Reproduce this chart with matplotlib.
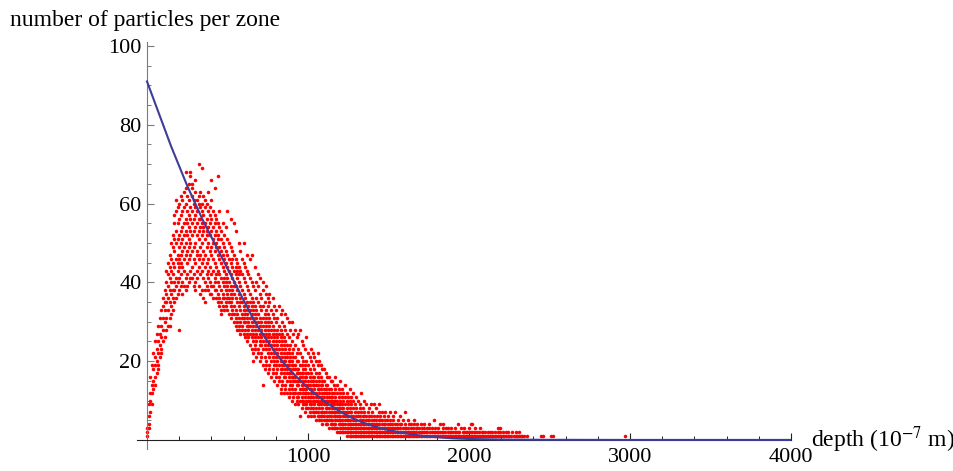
import numpy as np
import matplotlib
matplotlib.use('Agg')
import matplotlib.pyplot as plt
from matplotlib.ticker import FixedLocator, MultipleLocator

# ----- fitted curve -----
fit_depth = [0, 50, 100, 150, 200, 250, 300, 350, 400, 450, 500, 550, 600, 650,
             700, 750, 800, 850, 900, 950, 1000, 1050, 1100, 1150, 1200, 1250,
             1300, 1350, 1400, 1450, 1500, 1550, 1600, 1700, 1800, 1900, 2000,
             2200, 2500, 3000, 4000]
fit_count = [91, 85.5, 80, 74.5, 69.5, 64.5, 60, 55.5, 51.5, 47.5, 43.5, 39.5,
             35.5, 31.5, 28, 25, 22, 19.5, 17.2, 15.2, 13.2, 11.5, 9.9, 8.5, 7.2,
             6.1, 5.1, 4.3, 3.6, 3.0, 2.5, 2.1, 1.7, 1.1, 0.7, 0.4, 0.25, 0.1,
             0.03, 0, 0]

# ----- particles per zone, "depth: counts" -----
arm_cols = """
0: 2 1 3
10: 3 6 9 4
20: 7 12 16 10
30: 9 14 19 12
40: 13 18 22 15
50: 16 21 25 14 19
60: 17 23 27 20
70: 19 25 29 22 18
80: 21 27 31 24
90: 23 29 33 26 22
100: 25 31 36 28 34
110: 26 33 38 30 35
120: 28 35 40 31 37 43
130: 29 36 42 33 39 45
140: 31 38 44 35 41 47 29
150: 32 40 46 37 43 50 34
160: 33 42 49 38 45 52 36
170: 35 44 51 40 48 55 38 57
180: 36 46 53 41 50 58 39 61
190: 37 47 55 43 51 59 45 40
200: 38 49 56 44 52 60 46 41 28
"""

hump_cols = """
210: 39 50 57 45 53 62 47 42
220: 40 51 58 44 54 61 48 37
230: 39 52 59 46 55 63 49 43
240: 41 53 60 47 56 64 50 38 68
250: 42 52 58 48 55 62 45 39
260: 40 54 61 49 57 65 46 51
270: 43 53 59 47 56 67 50 41 68
280: 41 55 62 48 58 64 52 44 65
290: 42 56 60 49 53 61 46 39
300: 40 54 63 50 57 59 45 38 66
310: 43 55 61 48 52 58 47 41
320: 39 53 62 51 56 60 46 44 70
330: 42 56 59 49 54 63 47 37
340: 38 52 60 50 55 58 45 43 69
350: 41 54 57 48 53 62 46 36
360: 40 51 59 47 55 61 44 38 35
370: 39 53 56 49 52 60 45 42
380: 38 50 58 46 54 63 43 41
390: 40 52 55 48 57 59 44 37
400: 37 49 56 47 53 61 42 39 66
410: 39 51 54 46 50 58 43 36
420: 38 48 55 45 52 57 41 40 64
430: 36 50 53 44 49 56 42 38
440: 37 47 52 43 51 55 40 35 67
450: 36 46 54 42 49 58 39 34
460: 35 45 51 41 48 53 38 33 32
470: 34 44 50 40 47 55 37 36
480: 33 43 49 39 46 52 36 41
490: 34 42 48 38 45 54 35 40
"""

fall_cols = """
500: 33 41 47 37 44 51 36 39 58
510: 32 40 46 36 43 50 35 38
520: 31 39 45 35 42 49 34 37 56
530: 32 38 44 36 41 48 33 46
540: 30 37 43 34 40 47 32 39 55
550: 29 36 42 33 39 46 31 44 53
560: 30 35 41 32 38 45 28 43
570: 28 34 40 31 37 44 29 42 50
580: 27 33 39 30 36 43 35 48
590: 28 32 38 29 35 42 31 46
600: 27 31 37 30 34 41 33 45 50
610: 26 30 36 28 33 40 32 44
620: 25 29 35 27 32 39 31 43 47
630: 26 28 34 30 33 38 29 42
640: 24 27 33 29 31 37 35 41 46
650: 23 26 32 28 30 36 34 40 47
660: 22 25 31 27 29 35 33 39 20
670: 23 24 30 26 28 34 32 38 44
680: 21 25 29 27 31 33 36 40
690: 22 23 28 26 30 32 35 39 42
700: 20 24 27 25 29 31 34 37 41
710: 21 22 26 24 28 30 33 36
720: 19 23 25 27 29 31 34 38 40 14
730: 18 21 24 26 28 30 32 35
740: 19 20 23 25 27 29 31 33 37 39
750: 17 22 24 26 28 30 32 34 36
760: 18 19 21 23 25 27 29 31 35 37
770: 16 20 22 24 26 28 30 33
780: 17 18 21 23 25 27 29 32 36
790: 15 19 20 22 24 26 28 31 34
800: 16 17 19 21 23 25 27 30 33
810: 14 18 20 22 24 26 28 31
820: 15 16 19 21 23 25 27 29 34
830: 13 17 18 20 22 24 26 28 32 12
840: 14 15 18 19 21 23 25 27 30 33
850: 12 16 17 19 20 22 24 26 29
860: 13 14 16 18 20 21 23 25 28 32
870: 12 15 17 18 19 21 22 24 27 31
880: 11 13 16 17 19 20 22 23 26 30
890: 12 14 15 17 18 20 21 24 28
900: 10 13 14 16 17 19 20 22 25 30
910: 11 12 15 16 18 19 21 23 27
920: 9 12 13 15 16 18 19 21 24 28
930: 10 11 14 15 17 18 20 22 26
940: 9 11 12 14 15 17 18 20 23 27
950: 6 10 12 13 15 16 17 19 22 28
960: 8 10 11 13 14 16 17 19 21 25
970: 9 10 12 13 14 15 17 18 20 24
980: 7 9 11 12 13 15 16 18 19 23
990: 8 9 10 12 13 14 16 17 20 26
1000: 6 8 10 11 12 14 15 17 19 22
1010: 7 9 10 11 13 14 16 18 21
1020: 6 8 9 11 12 13 15 17 20 23
1030: 7 8 10 11 12 14 15 16 19 22
1040: 6 7 9 10 12 13 14 16 18 21
1050: 5 7 8 10 11 12 14 15 17 20
1060: 6 7 9 10 11 13 14 16 19 22
1070: 5 6 8 9 11 12 13 15 17 20
1080: 5 6 7 9 10 11 13 14 16 19
1090: 4 6 7 8 10 11 12 14 15 18
1100: 5 6 7 9 10 11 12 13 15 18
1110: 4 5 7 8 9 10 12 13 14 17
1120: 4 5 6 8 9 10 11 12 14 16
1130: 3 5 6 7 8 10 11 12 13 16
1140: 4 5 6 7 9 10 11 13 15
1150: 3 4 5 7 8 9 10 11 12 15
1160: 3 4 6 7 8 9 10 12 14
1170: 3 4 5 6 7 8 10 11 13 16
1180: 2 3 5 6 7 8 9 10 12 14
1190: 2 4 5 6 7 8 9 11 13
1200: 2 3 4 5 6 8 9 10 12 15
1210: 2 3 4 5 7 8 9 11 13
1220: 2 3 4 6 7 8 10 12
1230: 2 3 4 5 6 7 9 11 14
1240: 1 2 3 5 6 7 8 10 12
1250: 2 3 4 5 6 7 9 11
1260: 1 2 3 4 5 7 8 10 13
1270: 1 2 3 4 6 7 9 11
1280: 1 2 3 4 5 6 8 10 12
1290: 1 2 3 4 5 7 9
"""

tail_cols = """
1300: 1 2 3 4 5 6 8 11
1310: 1 2 3 4 6 7 10
1320: 1 2 3 4 5 6 8 9
1330: 1 2 3 4 5 7 12
1340: 1 2 3 4 5 6 8
1350: 1 2 3 4 6 7 10
1360: 1 2 3 4 5 6 9
1370: 1 2 3 4 5 7
1380: 1 2 3 4 5 6 8
1390: 1 2 3 4 6 9
1400: 1 2 3 4 5 7
1410: 1 2 3 4 5 6 9
1420: 1 2 3 4 5 8
1430: 1 2 3 4 6
1440: 1 2 3 4 5 7 9
1450: 1 2 3 5 6
1460: 1 2 3 4 5 7
1470: 1 2 3 4 6
1480: 1 2 3 4 5 7
1490: 1 2 3 5
1500: 1 2 3 4 6
1510: 1 2 3 4 5 7
1520: 1 2 3 4
1530: 1 2 3 5 6
1540: 1 2 3 4 7
1550: 1 2 3 4
1560: 1 2 3 5
1570: 1 2 3 4 6
1580: 1 2 4
1590: 1 2 3 5
1600: 1 2 3 4 7
1610: 1 2 3
1620: 1 2 3 5
1630: 1 2 4
1640: 1 2 3 4
1650: 1 2 3
1660: 1 2 4 5
1670: 1 2 3
1680: 1 3 4
1690: 1 2 3
1700: 1 2 4
1710: 1 2 3
1720: 1 2 3 4
1730: 1 2
1740: 1 2 3
1750: 1 3 4
1760: 1 2
1770: 1 2 3
1780: 1 2 5
1790: 1 2 3
1800: 1 2
1810: 1 2 3
1820: 1 2 4
1830: 1 2
1840: 1 2 3 4
1850: 1 2
1860: 1 3
1870: 1 2 3
1880: 1 2
1890: 1 2 3
1900: 1 2
1910: 1 2 3
1920: 1 2
1930: 1 2 4
1940: 1 2
1950: 1 3
1960: 1 2
1970: 1 2 3
1980: 1 2
1990: 1 2
2000: 1 2 3
2010: 1 2 4
2020: 1 2 4
2030: 1 2
2040: 1 2 3
2050: 1 2
2060: 1 2
2070: 1 3
2080: 1 2
2090: 1 2
2100: 1 2
2110: 1
2120: 1 2
2130: 1 2
2140: 1 2
2150: 1
2160: 1 2
2170: 1
2180: 1 2 3
2190: 1 2 3
2200: 1
2210: 1 2
2220: 1
2230: 1 2
2240: 1 2
2250: 1
2260: 1
2270: 2
2280: 1
2290: 1 2
2300: 1
2310: 1 2
2320: 1
2330: 1
2340: 1
2360: 1
2450: 1
2460: 1
2510: 1
2520: 1
2970: 1
"""


def parse_cols(block):
    xs, ys = [], []
    for line in block.strip().splitlines():
        d, vals = line.split(':')
        for v in vals.split():
            xs.append(float(d))
            ys.append(float(v))
    return xs, ys


def main():
    plt.rcParams['font.family'] = ['Liberation Serif', 'DejaVu Serif']
    plt.rcParams['mathtext.fontset'] = 'stix'

    depth, count = [], []
    for block in (arm_cols, hump_cols, fall_cols, tail_cols):
        xs, ys = parse_cols(block)
        depth += xs
        count += ys

    fig = plt.figure(figsize=(9.54, 4.71), dpi=100)
    ax = fig.add_axes([137 / 954, 22 / 471, 654 / 954, 407 / 471])

    ax.scatter(depth, count, s=6.5, c='#ff0000', linewidths=0, zorder=2)
    ax.plot(fit_depth, fit_count, color='#3d3d99', lw=1.5, zorder=3)

    ax.set_xlim(-62, 4000)
    ax.set_ylim(-2.3, 101)

    # mathematica style axes through the origin
    for s in ('top', 'right'):
        ax.spines[s].set_visible(False)
    ax.spines['left'].set_position(('data', 0))
    ax.spines['bottom'].set_position(('data', 0))
    ax.spines['left'].set_color('#7a7a7a')
    ax.spines['bottom'].set_color('#222222')

    ax.xaxis.set_major_locator(FixedLocator([1000, 2000, 3000, 4000]))
    ax.xaxis.set_minor_locator(MultipleLocator(200))
    ax.yaxis.set_major_locator(FixedLocator([20, 40, 60, 80, 100]))
    ax.yaxis.set_minor_locator(MultipleLocator(5))

    ax.tick_params(which='both', direction='in', labelsize=16)
    ax.tick_params(which='major', length=5, width=0.8)
    ax.tick_params(which='minor', length=3, width=0.7)
    ax.tick_params(axis='x', which='both', color='#222222', pad=6)
    ax.tick_params(axis='y', which='both', color='#7a7a7a', pad=4)

    fig.text(10 / 954, 1 - 26 / 471, 'number of particles per zone',
             fontsize=17, ha='left', va='baseline')
    fig.text(811 / 954, 1 - 440 / 471, r'depth (10$^{-7}$ m)',
             fontsize=17, ha='left', va='center')

    fig.savefig('out.png', dpi=100)


if __name__ == '__main__':
    main()
